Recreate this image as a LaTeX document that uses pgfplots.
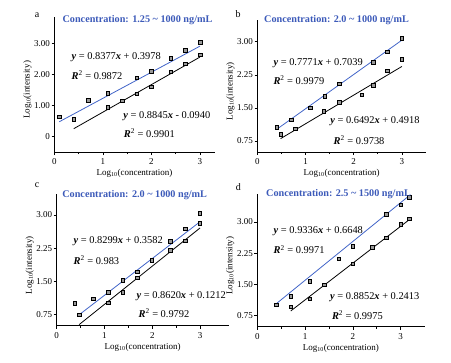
\documentclass[border=0pt]{standalone}
\usepackage{pgfplots}
\pgfplotsset{compat=1.18}
\usepackage{fontspec}
\setmainfont{Liberation Serif}
\definecolor{tblue}{RGB}{60,90,185}
\definecolor{lblue}{RGB}{65,100,200}
\pgfplotsset{
  panel/.style={
    scale only axis, anchor=south west, clip=false,
    axis x line*=bottom, axis y line*=left,
    axis line style={line width=0.6pt, -},
    tick align=outside, major tick length=3pt, minor tick length=2pt,
    tick style={line width=0.6pt, black},
    xmin=0, xtick={0,1,2,3}, xticklabels={0,1,2,3}, minor x tick num=1,
    /pgf/number format/assume math mode=true,
    tick label style={font=\fontsize{9}{10}\selectfont},
    yticklabel style={xshift=2pt},
    label style={font=\fontsize{9}{10}\selectfont},
    xlabel={Log\textsubscript{10}(concentration)},
    ylabel={Log\textsubscript{10}(intensity)},
    xlabel style={yshift=2pt},
    ylabel style={at={([xshift=-27pt]axis description cs:0,0.46)}, anchor=center, rotate=0},
  },
  pts/.style={only marks, mark=square*, mark size=1.8pt, mark options={draw=black, fill=black!40, line width=0.5pt}},
  bl/.style={no marks, color=lblue, line width=0.8pt},
  kl/.style={no marks, color=black, line width=0.8pt},
}
\tikzset{eq/.style={anchor=west, font=\fontsize{10.4}{12}\selectfont}}
\begin{document}
\begin{tikzpicture}
\useasboundingbox (0pt,0pt) rectangle (451pt,363pt);
% panel a
\begin{axis}[panel, at={(54.5pt,210.75pt)}, width=160pt, height=135.3pt,
  xmax=3.3, ymin=-0.5, ymax=3.85, ytick={0,1,2,3}, yticklabels={0,1.00,2.00,3.00}]
\addplot[bl] coordinates {(0.097,0.479) (3.0,2.911)};
\addplot[kl] coordinates {(0.398,0.258) (3.0,2.560)};
\addplot[pts] coordinates {(0.097,0.64) (0.398,0.56) (0.699,1.17) (1.097,1.39) (1.699,1.90) (2.0,2.11) (2.398,2.52) (2.699,2.77) (3.0,3.04)};
\addplot[pts] coordinates {(1.097,0.94) (1.398,1.16) (1.699,1.38) (2.0,1.61) (2.398,2.09) (2.699,2.34) (3.0,2.63)};
\node[eq] at (axis cs:0.28,2.57) {\textbf{\textit{y}} = 0.8377\textbf{\textit{x}} + 0.3978};
\node[eq] at (axis cs:0.28,1.98) {\textbf{\textit{R}}\textsuperscript{2} = 0.9872};
\node[eq] at (axis cs:1.35,0.67) {\textbf{\textit{y}} = 0.8845\textbf{\textit{x}} - 0.0940};
\node[eq] at (axis cs:1.36,0.11) {\textbf{\textit{R}}\textsuperscript{2} = 0.9901};
\end{axis}
% panel b
\begin{axis}[panel, at={(257.5pt,211pt)}, width=168.4pt, height=132.3pt,
  xmax=3.5, ymin=0.5, ymax=3.5, ytick={0.75,1.5,2.25,3}, yticklabels={0.75,1.50,2.25,3.00}]
\addplot[bl] coordinates {(0.40,1.015) (3.0,3.035)};
\addplot[kl] coordinates {(0.48,0.803) (3.0,2.439)};
\addplot[pts] coordinates {(0.40,1.06) (0.70,1.23) (1.10,1.50) (1.40,1.76) (1.70,2.05) (2.40,2.54) (2.70,2.77) (3.0,3.08)};
\addplot[pts] coordinates {(0.48,0.90) (0.78,1.03) (1.38,1.43) (1.70,1.63) (2.17,1.80) (2.40,2.01) (2.70,2.34) (3.0,2.60)};
\node[eq] at (axis cs:0.26,2.52) {\textbf{\textit{y}} = 0.7771\textbf{\textit{x}} + 0.7039};
\node[eq] at (axis cs:0.26,2.13) {\textbf{\textit{R}}\textsuperscript{2} = 0.9979};
\node[eq] at (axis cs:1.44,1.19) {\textbf{\textit{y}} = 0.6492\textbf{\textit{x}} + 0.4918};
\node[eq] at (axis cs:1.51,0.77) {\textbf{\textit{R}}\textsuperscript{2} = 0.9738};
\end{axis}
% panel c
\begin{axis}[panel, at={(56.7pt,37.25pt)}, width=172pt, height=132pt,
  xmax=3.6, ymin=0.5, ymax=3.48, ytick={0.75,1.5,2.25,3}, yticklabels={0.75,1.50,2.25,3.00}]
\addplot[bl] coordinates {(0.45,0.731) (3.0,2.848)};
\addplot[kl] coordinates {(0.47,0.526) (3.0,2.707)};
\addplot[pts] coordinates {(0.38,1.01) (0.77,1.11) (1.08,1.25) (1.38,1.53) (1.69,1.72) (1.99,1.98) (2.38,2.41) (2.69,2.69) (2.99,3.04)};
\addplot[pts] coordinates {(0.47,0.75) (1.08,1.02) (1.38,1.26) (1.69,1.58) (2.38,2.20) (2.69,2.42) (2.99,2.81)};
\node[eq] at (axis cs:0.28,2.41) {\textbf{\textit{y}} = 0.8299\textbf{\textit{x}} + 0.3582};
\node[eq] at (axis cs:0.28,1.98) {\textbf{\textit{R}}\textsuperscript{2} = 0.983};
\node[eq] at (axis cs:1.60,1.17) {\textbf{\textit{y}} = 0.8620\textbf{\textit{x}} + 0.1212};
\node[eq] at (axis cs:1.64,0.78) {\textbf{\textit{R}}\textsuperscript{2} = 0.9792};
\end{axis}
% panel d
\begin{axis}[panel, at={(257.3pt,36.2pt)}, width=167.3pt, height=133.1pt,
  xmax=3.5, ymin=0.48, ymax=3.68, ytick={0.75,1.5,2.25,3}, yticklabels={0.75,1.50,2.25,3.00}]
\addplot[bl] coordinates {(0.40,1.038) (3.18,3.634)};
\addplot[kl] coordinates {(0.70,0.861) (3.18,3.056)};
\addplot[pts] coordinates {(0.40,1.01) (0.70,1.21) (1.10,1.57) (1.70,2.12) (2.0,2.41) (2.70,3.18) (3.0,3.41) (3.18,3.60)};
\addplot[pts] coordinates {(0.70,0.96) (1.10,1.15) (1.40,1.49) (2.0,2.00) (2.40,2.39) (2.70,2.62) (3.0,2.94) (3.18,3.08)};
\node[eq] at (axis cs:0.27,2.77) {\textbf{\textit{y}} = 0.9336\textbf{\textit{x}} + 0.6648};
\node[eq] at (axis cs:0.27,2.33) {\textbf{\textit{R}}\textsuperscript{2} = 0.9971};
\node[eq] at (axis cs:1.45,1.20) {\textbf{\textit{y}} = 0.8852\textbf{\textit{x}} + 0.2413};
\node[eq] at (axis cs:1.49,0.76) {\textbf{\textit{R}}\textsuperscript{2} = 0.9975};
\end{axis}
% titles and panel letters
\begin{scope}[every node/.style={font=\fontsize{10.2}{12}\selectfont\bfseries, text=tblue}]
\node at (137.5pt,343pt) {Concentration: 1.25 \textasciitilde{} 1000 ng/mL};
\node at (336.5pt,343pt) {Concentration: 2.0 \textasciitilde{} 1000 ng/mL};
\node at (134.7pt,168pt) {Concentration: 2.0 \textasciitilde{} 1000 ng/mL};
\node at (338.5pt,168.7pt) {Concentration: 2.5 \textasciitilde{} 1500 ng/mL};
\end{scope}
\begin{scope}[every node/.style={font=\fontsize{10}{11}\selectfont}]
\node at (37pt,348pt) {a};
\node at (238pt,349pt) {b};
\node at (37pt,178pt) {c};
\node at (238.3pt,176.3pt) {d};
\end{scope}
\end{tikzpicture}
\end{document}
